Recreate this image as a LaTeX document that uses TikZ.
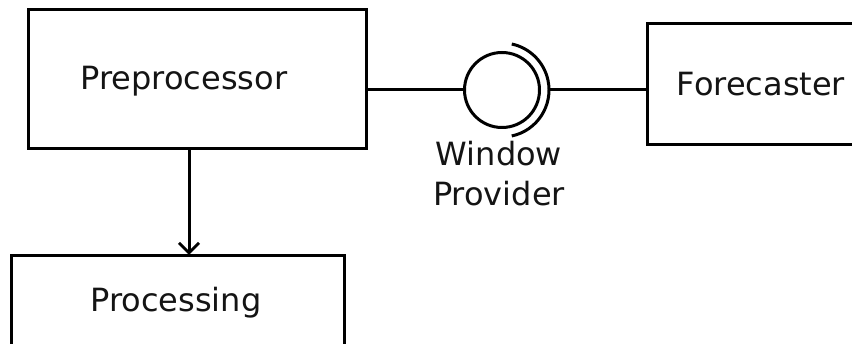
\documentclass[tikz,border=0pt]{standalone}
\usepackage{fontspec}
\setmainfont{DejaVu Sans}
\usetikzlibrary{arrows.meta}
\begin{document}
\begin{tikzpicture}[x=1pt,y=-1pt,
  box/.style={draw=black, line width=3pt, fill=white, inner sep=0pt},
  lbl/.style={font=\fontsize{32}{40}\selectfont, text=black!92, inner sep=0pt, anchor=base},
  conn/.style={draw=black, line width=3pt}]
\useasboundingbox (0,0) rectangle (852,344);
\node[box, minimum width=338pt, minimum height=139pt] (pre) at (197,79.5) {};
\node[lbl] (pret) at (184,90) {Preprocessor};
\node[box, minimum width=333pt, minimum height=140pt] (proc) at (177.5,326) {};
\node[lbl] (proct) at (176,312) {Processing};
\node[box, minimum width=260pt, minimum height=121pt] (fore) at (777,84.5) {};
\node[lbl] (foret) at (761,96) {Forecaster};
\node[draw=black, line width=3pt, circle, minimum size=75pt, inner sep=0pt] (win) at (502,90) {};
\node[lbl, align=center, anchor=base] (wint) at (499,206) {Window\\Provider};
\coordinate (arcend) at ([shift={(0:47)}]win.center);
\draw[conn] (win.center) ++(78:47) arc[start angle=78, end angle=-78, radius=47];
\draw[conn] (pre.east |- win.west) -- (win.west);
\draw[conn] (arcend) -- (fore.west |- arcend);
\draw[conn, -{Straight Barb[length=10pt, width=20pt, line width=3pt]}] (189,149) -- (189,255);
\end{tikzpicture}
\end{document}
